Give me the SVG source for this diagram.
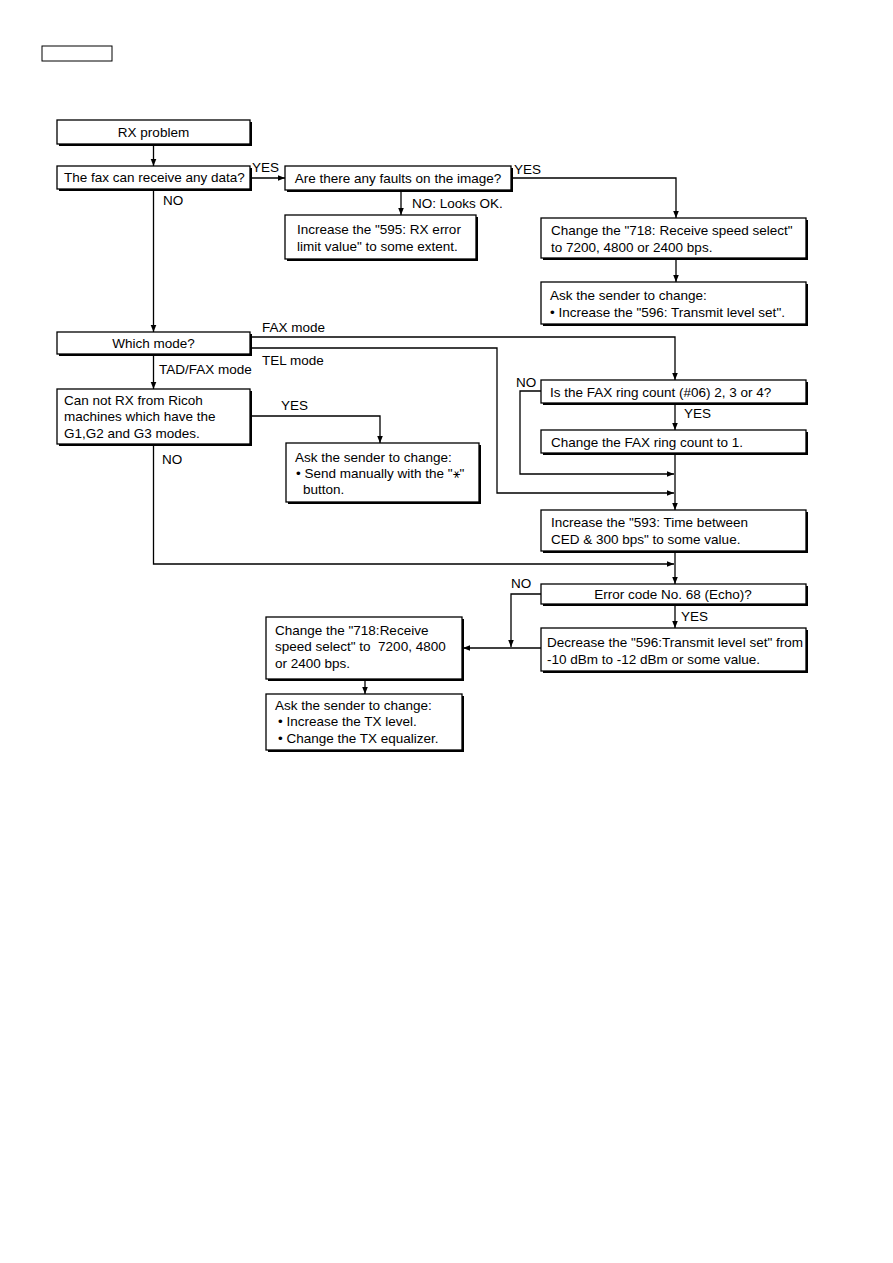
<svg xmlns="http://www.w3.org/2000/svg" width="893" height="1263" viewBox="0 0 893 1263">
<defs>
<marker id="ah" viewBox="0 0 10 10" refX="10" refY="5" markerWidth="7" markerHeight="7" markerUnits="userSpaceOnUse" orient="auto">
<path d="M0,1 L10,5 L0,9 Z" fill="#000"/>
</marker>
</defs>
<style>
.box{fill:#fff;stroke:#000;stroke-width:1.3}
.sh{fill:#000}
text{font-family:"Liberation Sans",Arial,sans-serif;font-size:13.5px;fill:#000}
.c{text-anchor:middle}
.ln{fill:none;stroke:#000;stroke-width:1.3}
.ar{fill:none;stroke:#000;stroke-width:1.3;marker-end:url(#ah)}
.sym{font-family:"DejaVu Sans",sans-serif;font-size:12px;fill:#000}
</style>
<rect width="893" height="1263" fill="#fff"/>
<rect x="42" y="46" width="70" height="15" fill="#fff" stroke="#000" stroke-width="1"/>

<g id="n_rx">
<rect class="sh" x="59" y="122" width="193" height="24"/>
<rect class="box" x="57" y="120" width="193" height="24"/>
<text class="c" x="153.5" y="137">RX problem</text>
</g>
<g id="n_data">
<rect class="sh" x="59" y="168" width="193" height="23"/>
<rect class="box" x="57" y="166" width="193" height="23"/>
<text x="64" y="182">The fax can receive any data?</text>
</g>
<g id="n_faults">
<rect class="sh" x="287" y="168" width="226" height="24"/>
<rect class="box" x="285" y="166" width="226" height="24"/>
<text class="c" x="398" y="183">Are there any faults on the image?</text>
</g>
<g id="n_595">
<rect class="sh" x="287" y="217" width="191" height="44"/>
<rect class="box" x="285" y="215" width="191" height="44"/>
<text x="297" y="234">Increase the "595: RX error</text>
<text x="297" y="251">limit value" to some extent.</text>
</g>
<g id="n_718a">
<rect class="sh" x="543" y="220" width="265" height="40"/>
<rect class="box" x="541" y="218" width="265" height="40"/>
<text x="551" y="235">Change the "718: Receive speed select"</text>
<text x="551" y="252">to 7200, 4800 or 2400 bps.</text>
</g>
<g id="n_596a">
<rect class="sh" x="543" y="284" width="265" height="42"/>
<rect class="box" x="541" y="282" width="265" height="42"/>
<text x="550" y="300">Ask the sender to change:</text>
<text x="550" y="317">• Increase the "596: Transmit level set".</text>
</g>
<g id="n_mode">
<rect class="sh" x="59" y="334" width="193" height="22"/>
<rect class="box" x="57" y="332" width="193" height="22"/>
<text class="c" x="153.5" y="348">Which mode?</text>
</g>
<g id="n_ricoh">
<rect class="sh" x="59" y="391" width="193" height="55"/>
<rect class="box" x="57" y="389" width="193" height="55"/>
<text x="64" y="405">Can not RX from Ricoh</text>
<text x="64" y="421">machines which have the</text>
<text x="64" y="438">G1,G2 and G3 modes.</text>
</g>
<g id="n_star">
<rect class="sh" x="288" y="445" width="193" height="59"/>
<rect class="box" x="286" y="443" width="193" height="59"/>
<text x="295" y="462">Ask the sender to change:</text>
<text x="296" y="478">• Send manually with the "<tspan class="sym">⚹</tspan>"</text>
<text x="303" y="494">button.</text>
</g>
<g id="n_ring">
<rect class="sh" x="543" y="382" width="265" height="23"/>
<rect class="box" x="541" y="380" width="265" height="23"/>
<text x="550" y="397">Is the FAX ring count (#06) 2, 3 or 4?</text>
</g>
<g id="n_ring1">
<rect class="sh" x="543" y="432" width="265" height="23"/>
<rect class="box" x="541" y="430" width="265" height="23"/>
<text x="551" y="447">Change the FAX ring count to 1.</text>
</g>
<g id="n_593">
<rect class="sh" x="543" y="512" width="265" height="41"/>
<rect class="box" x="541" y="510" width="265" height="41"/>
<text x="551" y="527">Increase the "593: Time between</text>
<text x="551" y="544">CED &amp; 300 bps" to some value.</text>
</g>
<g id="n_err">
<rect class="sh" x="543" y="586" width="265" height="20"/>
<rect class="box" x="541" y="584" width="265" height="20"/>
<text class="c" x="673" y="599">Error code No. 68 (Echo)?</text>
</g>
<g id="n_dec">
<rect class="sh" x="543" y="630" width="265" height="43"/>
<rect class="box" x="541" y="628" width="265" height="43"/>
<text x="547" y="647">Decrease the "596:Transmit level set" from</text>
<text x="547" y="664">-10 dBm to -12 dBm or some value.</text>
</g>
<g id="n_718b">
<rect class="sh" x="268" y="619" width="196" height="62"/>
<rect class="box" x="266" y="617" width="196" height="62"/>
<text x="275" y="635">Change the "718:Receive</text>
<text x="275" y="651" xml:space="preserve">speed select" to  7200, 4800</text>
<text x="275" y="668">or 2400 bps.</text>
</g>
<g id="n_tx">
<rect class="sh" x="268" y="696" width="196" height="56"/>
<rect class="box" x="266" y="694" width="196" height="56"/>
<text x="275" y="710">Ask the sender to change:</text>
<text x="278" y="726">• Increase the TX level.</text>
<text x="278" y="743">• Change the TX equalizer.</text>
</g>

<g id="connectors">
<path class="ar" d="M153.5,145 V166"/>
<path class="ar" d="M251,178 H285"/>
<path class="ar" d="M512,178 H676 V218"/>
<path class="ar" d="M401,191 V215"/>
<path class="ar" d="M676,259 V282"/>
<path class="ar" d="M153.5,190 V332"/>
<path class="ar" d="M251,337 H675 V380"/>
<path class="ar" d="M251,348 H497 V493 H674"/>
<path class="ar" d="M153.5,355 V389"/>
<path class="ar" d="M251,416 H380 V443"/>
<path class="ar" d="M153.5,445 V564 H674"/>
<path class="ar" d="M541,391 H520 V474 H674"/>
<path class="ar" d="M675,404 V430"/>
<path class="ar" d="M675,454 V510"/>
<path class="ar" d="M675,552 V584"/>
<path class="ar" d="M541,594 H511 V647"/>
<path class="ar" d="M675,605 V628"/>
<path class="ar" d="M541,648 H463"/>
<path class="ar" d="M365,680 V694"/>
</g>
<g id="labels">
<text x="252" y="172">YES</text>
<text x="514" y="174">YES</text>
<text x="412" y="208">NO: Looks OK.</text>
<text x="163" y="205">NO</text>
<text x="262" y="332">FAX mode</text>
<text x="262" y="365">TEL mode</text>
<text x="159" y="374">TAD/FAX mode</text>
<text x="281" y="410">YES</text>
<text x="162" y="464">NO</text>
<text x="516" y="387">NO</text>
<text x="684" y="418">YES</text>
<text x="511" y="588">NO</text>
<text x="681" y="621">YES</text>
</g>
</svg>
